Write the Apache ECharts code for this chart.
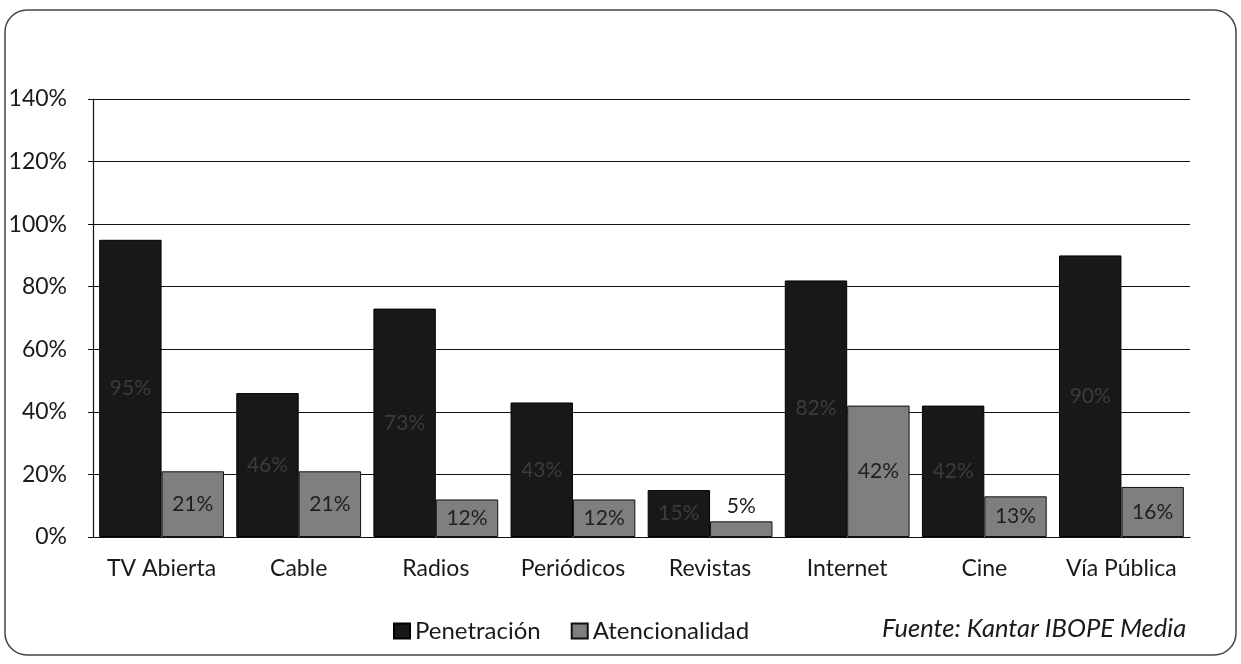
<!DOCTYPE html>
<html>
<head>
<meta charset="utf-8">
<script src="https://cdn.jsdelivr.net/npm/echarts@6/dist/echarts.min.js"></script>
<style>html,body{margin:0;padding:0;background:#fff}#c{width:1241px;height:664px}</style>
</head>
<body>
<div id="c"></div>
<script>
const categories = ['TV Abierta', 'Cable', 'Radios', 'Periódicos', 'Revistas', 'Internet', 'Cine', 'Vía Pública'];
const penetracion = [95, 46, 73, 43, 15, 82, 42, 90];
const atencionalidad = [21, 21, 12, 12, 5, 42, 13, 16];
const seriesNames = ['Penetración', 'Atencionalidad'];
const sourceText = 'Fuente: Kantar IBOPE Media';

const FONT = 'Lato';
const chart = echarts.init(document.getElementById('c'));
chart.setOption({
  backgroundColor: '#fff',
  animation: false,
  textStyle: { fontFamily: FONT },
  grid: { left: 93, right: 51, top: 99, bottom: 127 },
  legend: {
    data: seriesNames,
    left: 388, top: 614,
    icon: 'rect', itemWidth: 16, itemHeight: 15, itemGap: 30,
    textStyle: { fontFamily: FONT, fontSize: 24, color: '#1a1a1a' }
  },
  graphic: [
    { type: 'rect', shape: { x: 5, y: 10, width: 1231, height: 645, r: 22 },
      style: { fill: 'none', stroke: '#444', lineWidth: 1.5 }, z: -1 },
    { type: 'text', x: 882, y: 629,
      style: { text: sourceText, font: 'italic 25.5px Lato', fill: '#1a1a1a', verticalAlign: 'middle' } }
  ],
  xAxis: {
    type: 'category', data: categories,
    axisLine: { lineStyle: { color: '#111', width: 1.2 } },
    axisTick: { show: false },
    axisLabel: { interval: 0, fontFamily: FONT, fontSize: 23, color: '#1a1a1a', margin: 20 }
  },
  yAxis: {
    type: 'value', min: 0, max: 140, interval: 20,
    axisLine: { show: true, lineStyle: { color: '#111', width: 1.2 } },
    axisTick: { show: true, length: 5, lineStyle: { color: '#111' } },
    splitLine: { lineStyle: { color: '#111', width: 1.2 } },
    axisLabel: { formatter: '{value}%', fontFamily: FONT, fontSize: 23, color: '#1a1a1a', margin: 26 }
  },
  series: [
    { name: seriesNames[0], type: 'bar', data: penetracion,
      barGap: '0%', barCategoryGap: '9%',
      itemStyle: { color: '#181818', borderColor: '#000', borderWidth: 1 },
      label: { show: true, position: 'inside', formatter: '{c}%', fontFamily: FONT, fontSize: 21, color: '#3c3c3c' } },
    { name: seriesNames[1], type: 'bar', data: atencionalidad.map(v => v < 8
        ? { value: v, label: { position: 'top', color: '#1a1a1a' } } : v),
      itemStyle: { color: '#7f7f7f', borderColor: '#111', borderWidth: 1 },
      label: { show: true, position: 'inside', formatter: '{c}%', fontFamily: FONT, fontSize: 21, color: '#1f1f1f' } }
  ]
});
</script>
</body>
</html>
